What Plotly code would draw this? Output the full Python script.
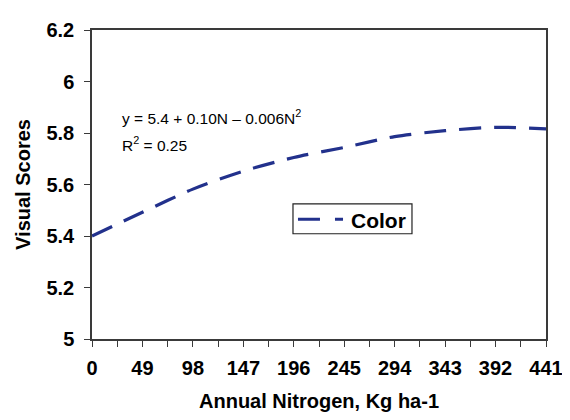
import plotly.graph_objects as go

nitrogen = [0, 49, 98, 147, 196, 245, 294, 343, 392, 441]
color_scores = [5.40, 5.492, 5.582, 5.652, 5.705, 5.744, 5.786, 5.809, 5.822, 5.816]
y_ticks = [5, 5.2, 5.4, 5.6, 5.8, 6, 6.2]
y_tick_labels = ["5", "5.2", "5.4", "5.6", "5.8", "6", "6.2"]
x_ticks = nitrogen
x_tick_labels = [str(v) for v in nitrogen]
series_name = "Color"

FONT = "Liberation Sans, Arial, sans-serif"
LINE = "#3a3a3a"
NAVY = "#22318C"

fig = go.Figure()
fig.add_trace(go.Scatter(
    x=nitrogen, y=color_scores, mode="lines", name=series_name, showlegend=False,
    line=dict(color=NAVY, width=3.2, dash="22px,13px", shape="spline", smoothing=0.8),
))

# legend box drawn like the original (long dash + short dash sample)
shapes = [
    dict(type="rect", xref="paper", yref="paper", x0=0.4427, x1=0.7048, y0=0.3406, y1=0.4375,
         line=dict(color="#222222", width=1.2), fillcolor="white", layer="above"),
    dict(type="line", xref="paper", yref="paper", x0=0.4537, x1=0.5529, y0=0.3875, y1=0.3875,
         line=dict(color=NAVY, width=3.2, dash="22px,15px"), layer="above"),
]

fig.update_layout(
    width=570, height=420,
    margin=dict(l=84, r=32, t=11, b=89),
    paper_bgcolor="white", plot_bgcolor="white",
    font=dict(family=FONT, color="black"),
    showlegend=False,
    shapes=shapes,
    annotations=[
        dict(text="y = 5.4 + 0.10N – 0.006N<sup>2</sup>", xref="paper", yref="paper",
             x=0.0617, y=0.719, xanchor="left", yanchor="middle", showarrow=False,
             font=dict(family=FONT, size=15.5, color="black")),
        dict(text="R<sup>2</sup> = 0.25", xref="paper", yref="paper",
             x=0.0617, y=0.631, xanchor="left", yanchor="middle", showarrow=False,
             font=dict(family=FONT, size=15.5, color="black")),
        dict(text=series_name, xref="paper", yref="paper",
             x=0.5661, y=0.384, xanchor="left", yanchor="middle", showarrow=False,
             font=dict(family=FONT, size=21, weight="bold", color="black")),
    ],
)

fig.update_xaxes(
    range=[0, 441], tickvals=x_ticks, ticktext=x_tick_labels,
    ticks="outside", ticklen=6, tickcolor=LINE, tickwidth=1,
    minor=dict(dtick=24.5, tick0=0, ticks="outside", ticklen=6, tickcolor=LINE, tickwidth=1, showgrid=False),
    showline=True, linecolor=LINE, linewidth=1.5, mirror=True,
    showgrid=False, zeroline=False,
    ticklabelstandoff=4,
    tickfont=dict(family=FONT, size=20, weight="bold", color="black"),
    title=dict(text="Annual Nitrogen, Kg ha-1", standoff=16,
               font=dict(family=FONT, size=20, weight="bold", color="black")),
)
fig.update_yaxes(
    range=[5, 6.2], tickvals=y_ticks, ticktext=y_tick_labels,
    ticks="outside", ticklen=6, tickcolor=LINE, tickwidth=1,
    showline=True, linecolor=LINE, linewidth=1.5, mirror=True,
    showgrid=False, zeroline=False,
    ticklabelstandoff=6,
    tickfont=dict(family=FONT, size=20, weight="bold", color="black"),
    title=dict(text="Visual Scores", standoff=10,
               font=dict(family=FONT, size=20, weight="bold", color="black")),
)

fig.write_html("out.html")
